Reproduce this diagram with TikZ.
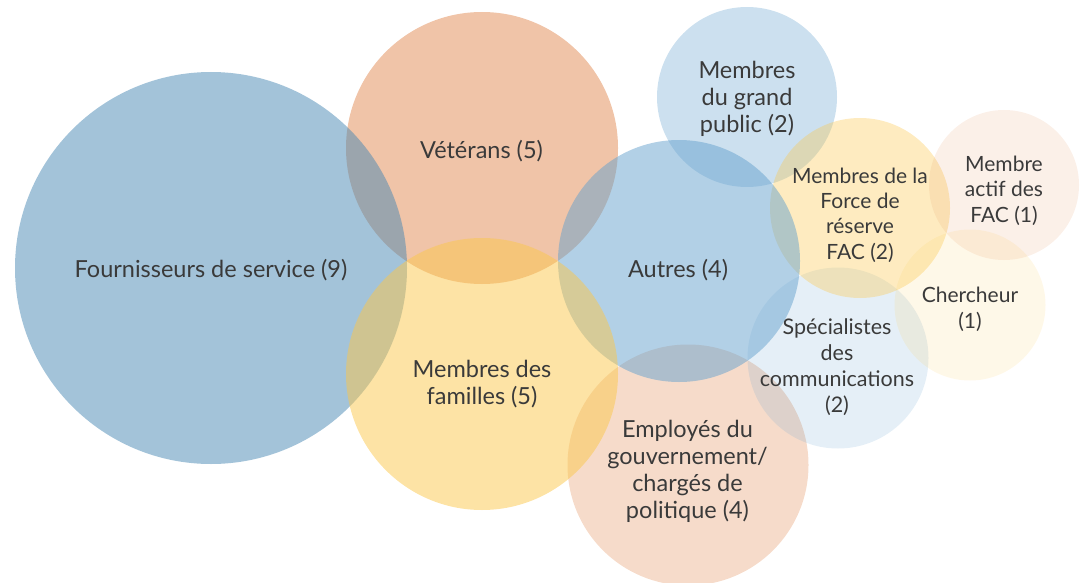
\documentclass[tikz,border=0pt]{standalone}
\usepackage{fontspec}
\setmainfont{Lato}
\definecolor{fourn}{RGB}{71,135,179}
\definecolor{autres}{RGB}{101,161,205}
\definecolor{orng}{RGB}{225,137,81}
\definecolor{yell}{RGB}{251,199,75}
\definecolor{txt}{RGB}{58,58,58}
\tikzset{
  lbl/.style={text=txt, align=center, anchor=base, font=\fontsize{23.5}{27}\selectfont, inner sep=0pt},
  mlbl/.style={text=txt, align=center, anchor=base, font=\fontsize{21.5}{25.7}\selectfont, inner sep=0pt},
  slbl/.style={text=txt, align=center, anchor=base, font=\fontsize{21}{25.3}\selectfont, inner sep=0pt}
}
\begin{document}
\begin{tikzpicture}[x=1pt,y=-1pt]
\useasboundingbox (0,0) rectangle (1081,583);
% circles (drawing order chosen for overlaps)
\fill[orng, opacity=0.5] (482,148) circle[radius=136pt];
\fill[fourn, opacity=0.5] (211,268) circle[radius=196pt];
\fill[orng, opacity=0.3] (688,465) circle[radius=120.5pt];
\fill[autres, opacity=0.33] (747,97) circle[radius=90pt];
\fill[autres, opacity=0.17] (838,358) circle[radius=90.5pt];
\fill[yell, opacity=0.35] (860,208) circle[radius=90pt];
\fill[autres, opacity=0.5] (679,261) circle[radius=121pt];
\fill[yell, opacity=0.5] (482,374) circle[radius=136pt];
\fill[orng, opacity=0.13] (1004,185) circle[radius=75pt];
\fill[yell, opacity=0.13] (970,305) circle[radius=75.5pt];
% labels (anchor = baseline of the last line)
\node[lbl] (fourn) at (211,277.7) {Fournisseurs de service (9)};
\node[lbl] (vet) at (481.5,158.3) {Vétérans (5)};
\node[lbl] (fam) at (482,404) {Membres des\\familles (5)};
\node[lbl] (aut) at (678,277) {Autres (4)};
\node[lbl] (gp) at (747,132.7) {Membres\\du grand\\public (2)};
\node[slbl] (force) at (860,259) {Membres de la\\Force de\\réserve\\FAC (2)};
\node[slbl] (actif) at (1004,222) {Membre\\actif des\\FAC (1)};
\node[slbl] (cherch) at (970,328) {Chercheur\\(1)};
\node[mlbl] (spec) at (837,412) {Spécialistes\\des\\communications\\(2)};
\node[lbl] (emp) at (687.5,518.3) {Employés du\\gouvernement/\\chargés de\\politique (4)};
\end{tikzpicture}
\end{document}
